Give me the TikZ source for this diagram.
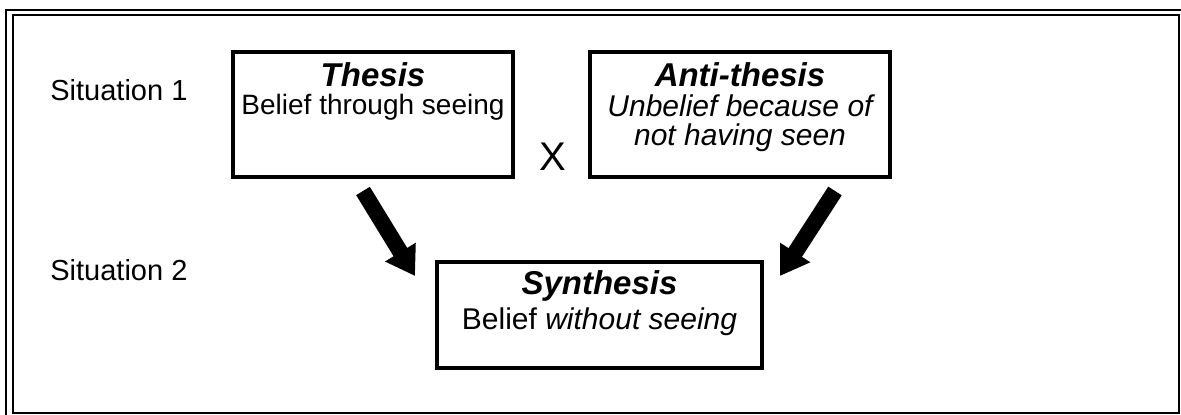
\documentclass[tikz,border=0pt]{standalone}
\usepackage{fontspec}
\setmainfont{Liberation Sans}
\usepackage{tikz}
\usetikzlibrary{arrows.meta, positioning}

\begin{document}
\begin{tikzpicture}[
  x=0.5pt, y=-0.5pt,
  font=\fontsize{14}{17}\selectfont,
  stage/.style={draw, line width=2pt, inner sep=0pt, minimum height=62.5pt},
  heading/.style={font=\fontsize{16.5}{19}\selectfont\bfseries\itshape, inner sep=0pt},
  body/.style={align=center, inner sep=0pt},
  side/.style={anchor=west, inner sep=0pt, font=\fontsize{14.5}{17}\selectfont},
  move/.style={line width=8pt, -{Triangle[width=17pt, length=14pt]}}
]
  \useasboundingbox (0,0) rectangle (1181,415);
  \draw[line width=1pt] (6,415) -- (6,10) -- (1181,10);
  \draw[line width=1pt] (13,15) rectangle (1179,413);

  \node[side] (sit1) at (50,90) {Situation 1};
  \node[side] (sit2) at (50,270) {Situation 2};

  \node[stage, minimum width=140pt] (thesis) at (373,114.5) {};
  \node[heading, below=6pt of thesis.north] (thesisT) {Thesis};
  \node[body, below=3.5pt of thesisT] (thesisB) {Belief through seeing};

  \node[font=\fontsize{20}{23}\selectfont] (cross) at (553,157) {X};

  \node[stage, minimum width=150pt] (anti) at (740,114.5) {};
  \node[heading, below=6pt of anti.north] (antiT) {Anti-thesis};
  \node[body, font=\fontsize{15}{14.5}\selectfont\itshape, below=3.5pt of antiT] (antiB)
    {Unbelief because of\\not having seen};

  \node[stage, minimum width=162.5pt, minimum height=53pt] (synth) at (599.5,315) {};
  \node[heading, below=5pt of synth.north] (synthT) {Synthesis};
  \node[body, font=\fontsize{15}{17}\selectfont, below=3pt of synthT] (synthB)
    {Belief \textit{without seeing}};

  \draw[move] ([xshift=-5pt, yshift=-6pt]thesis.south)
    -- ([xshift=-10pt, yshift=-8pt]synth.north west);
  \draw[move] ([xshift=-28.5pt, yshift=-6pt]anti.south east)
    -- ([xshift=8pt, yshift=-8pt]synth.north east);
\end{tikzpicture}
\end{document}
